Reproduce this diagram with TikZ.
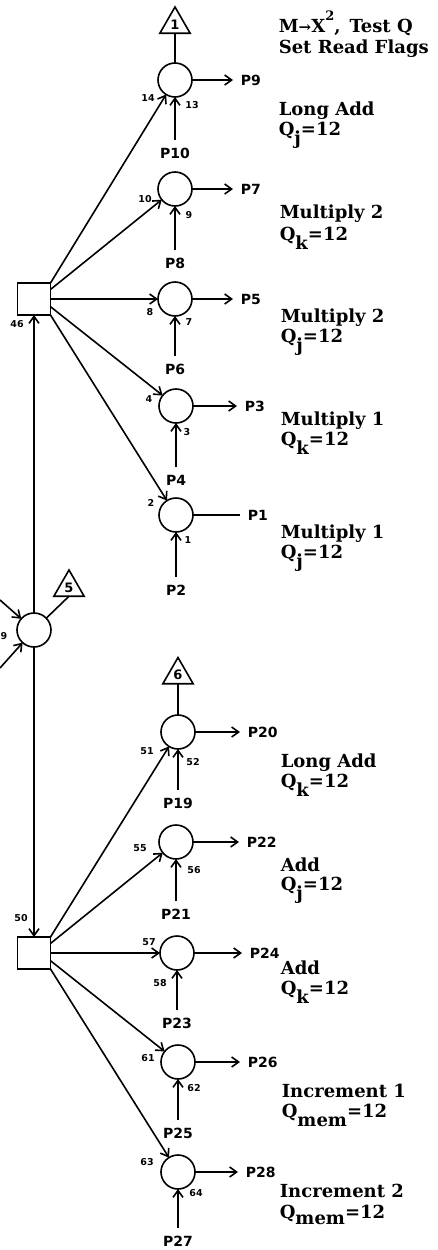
\documentclass[tikz,border=0pt]{standalone}
\usepackage{fontspec}
\newfontfamily\labfont{DejaVu Sans}
\newfontfamily\descfont{DejaVu Serif}
\usetikzlibrary{arrows.meta,shapes.geometric}
\newcommand\lowsub[1]{\raisebox{-9pt}{#1}}
\tikzset{
  place/.style={circle,draw,minimum size=34pt,inner sep=0pt,outer sep=0pt},
  trans/.style={rectangle,draw,minimum width=33pt,minimum height=32pt,inner sep=0pt,outer sep=0pt},
  term/.style={regular polygon,regular polygon sides=3,draw,minimum size=35pt,inner sep=0pt,outer sep=0pt,
    font=\labfont\bfseries\fontsize{13}{13}\selectfont},
  plab/.style={font=\labfont\bfseries\fontsize{14}{14}\selectfont,inner sep=7pt},
  num/.style={font=\labfont\bfseries\fontsize{9.5}{9.5}\selectfont,inner sep=0pt},
  desc/.style={anchor=base west,inner sep=0pt,font=\descfont\bfseries\fontsize{18}{20}\selectfont},
  arr/.style={-{Straight Barb[length=7pt,width=10pt]}}
}
\begin{document}
\begin{tikzpicture}[x=1pt,y=-1pt,line width=1.6pt]
\useasboundingbox (0,0) rectangle (437,1250);

% ---------- upper group ----------
\node[trans] (s46) at (34,299) {};
\node[num] (l46) at (17,324) {46};

\node[term] (t1) at (175,24.5) {1};
\node[place] (c1) at (175,80) {};
\node[place] (c2) at (175,189) {};
\node[place] (c3) at (175,299) {};
\node[place] (c4) at (176,406) {};
\node[place] (c5) at (176,515) {};

\node[plab,anchor=west] (p9) at (233,80) {P9};
\node[plab,anchor=west] (p7) at (233,189) {P7};
\node[plab,anchor=west] (p5) at (233,299) {P5};
\node[plab,anchor=west] (p3) at (237,406) {P3};
\node[plab,anchor=west] (p1) at (240,515) {P1};

\node[plab] (p10) at (175,153) {P10};
\node[plab] (p8) at (175,263) {P8};
\node[plab] (p6) at (175,369) {P6};
\node[plab] (p4) at (176,480) {P4};
\node[plab] (p2) at (176,590) {P2};

\node[num] (n14) at (148,98) {14};
\node[num] (n13) at (192,105) {13};
\node[num] (n10) at (145,199) {10};
\node[num] (n9) at (189,215) {9};
\node[num] (n8) at (150,312) {8};
\node[num] (n7) at (189,322) {7};
\node[num] (n4) at (149,399) {4};
\node[num] (n3) at (187,432) {3};
\node[num] (n2) at (151,503) {2};
\node[num] (n1) at (188,540) {1};

\draw (t1) -- (c1);
\draw[arr] (c1) -- (p9);
\draw[arr] (c2) -- (p7);
\draw[arr] (c3) -- (p5);
\draw[arr] (c4) -- (p3);
\draw (c5) -- (p1);
\draw[arr] (p10) -- (c1);
\draw[arr] (p8) -- (c2);
\draw[arr] (p6) -- (c3);
\draw[arr] (p4) -- (c4);
\draw[arr] (p2) -- (c5);
\draw[arr] (s46.north east) -- (c1);
\draw[arr] (s46.30) -- (c2);
\draw[arr] (s46.east) -- (c3);
\draw[arr] (s46.-25) -- (c4);
\draw[arr] (s46.south east) -- (c5);

% ---------- middle ----------
\node[place] (c9) at (34,630) {};
\node[num,anchor=east] (n49) at (8,636) {9};
\node[term] (t5) at (69,587.5) {5};
\coordinate (in1) at (0,600);
\coordinate (in2) at (0,668);
\draw[arr] (in1) -- (c9);
\draw[arr] (in2) -- (c9);
\draw (c9) -- (t5.south);

% ---------- lower group ----------
\node[trans] (s50) at (34,953) {};
\node[num] (l50) at (21,918) {50};
\draw[arr] (c9) -- (s46);
\draw[arr] (c9) -- (s50);

\node[term] (t6) at (178,675) {6};
\node[place] (c6) at (178,732) {};
\node[place] (c7) at (176,842) {};
\node[place] (c8) at (177,953) {};
\node[place] (c10) at (178,1062) {};
\node[place] (c11) at (178,1172) {};

\node[plab,anchor=west] (p20) at (240,732) {P20};
\node[plab,anchor=west] (p22) at (239,842) {P22};
\node[plab,anchor=west] (p24) at (242,953) {P24};
\node[plab,anchor=west] (p26) at (240,1062) {P26};
\node[plab,anchor=west] (p28) at (238,1172) {P28};

\node[plab] (p19) at (178,803) {P19};
\node[plab] (p21) at (176,914) {P21};
\node[plab] (p23) at (177,1023) {P23};
\node[plab] (p25) at (178,1133) {P25};
\node[plab] (p27) at (178,1241) {P27};

\node[num] (n51) at (147,751) {51};
\node[num] (n52) at (193,762) {52};
\node[num] (n55) at (140,848) {55};
\node[num] (n56) at (194,870) {56};
\node[num] (n57) at (149,942) {57};
\node[num] (n58) at (160,983) {58};
\node[num] (n61) at (148,1058) {61};
\node[num] (n62) at (194,1088) {62};
\node[num] (n63) at (147,1162) {63};
\node[num] (n64) at (196,1193) {64};

\draw (t6) -- (c6);
\draw[arr] (c6) -- (p20);
\draw[arr] (c7) -- (p22);
\draw[arr] (c8) -- (p24);
\draw[arr] (c10) -- (p26);
\draw[arr] (c11) -- (p28);
\draw[arr] (p19) -- (c6);
\draw[arr] (p21) -- (c7);
\draw[arr] (p23) -- (c8);
\draw[arr] (p25) -- (c10);
\draw[arr] (p27) -- (c11);
\draw[arr] (s50.north east) -- (c6);
\draw[arr] (s50.30) -- (c7);
\draw[arr] (s50.east) -- (c8);
\draw[arr] (s50.-25) -- (c10);
\draw[arr] (s50.south east) -- (c11);

% ---------- descriptions ----------
\node[desc] (d1a) at (278,32) {M{\fontsize{15}{15}\selectfont →}X\raisebox{12pt}{\fontsize{13}{13}\selectfont 2},\hspace{9pt}Test Q};
\node[desc] (d1b) at (278,53) {Set Read Flags};
\node[desc] (d2a) at (278,115) {Long Add};
\node[desc] (d2b) at (278,135) {Q\lowsub{j}=12};
\node[desc] (d3a) at (279,218) {Multiply 2};
\node[desc] (d3b) at (279,240) {Q\lowsub{k}=12};
\node[desc] (d4a) at (280,322) {Multiply 2};
\node[desc] (d4b) at (280,342) {Q\lowsub{j}=12};
\node[desc] (d5a) at (280,425) {Multiply 1};
\node[desc] (d5b) at (280,445) {Q\lowsub{k}=12};
\node[desc] (d6a) at (280,538) {Multiply 1};
\node[desc] (d6b) at (280,558) {Q\lowsub{j}=12};
\node[desc] (d7a) at (280,767) {Long Add};
\node[desc] (d7b) at (280,787) {Q\lowsub{k}=12};
\node[desc] (d8a) at (280,871) {Add};
\node[desc] (d8b) at (280,890) {Q\lowsub{j}=12};
\node[desc] (d9a) at (280,974) {Add};
\node[desc] (d9b) at (280,994) {Q\lowsub{k}=12};
\node[desc] (d10a) at (281,1097) {Increment 1};
\node[desc] (d10b) at (281,1117) {Q\lowsub{mem}=12};
\node[desc] (d11a) at (279,1197) {Increment 2};
\node[desc] (d11b) at (279,1218) {Q\raisebox{-6pt}{mem}=12};
\end{tikzpicture}
\end{document}
